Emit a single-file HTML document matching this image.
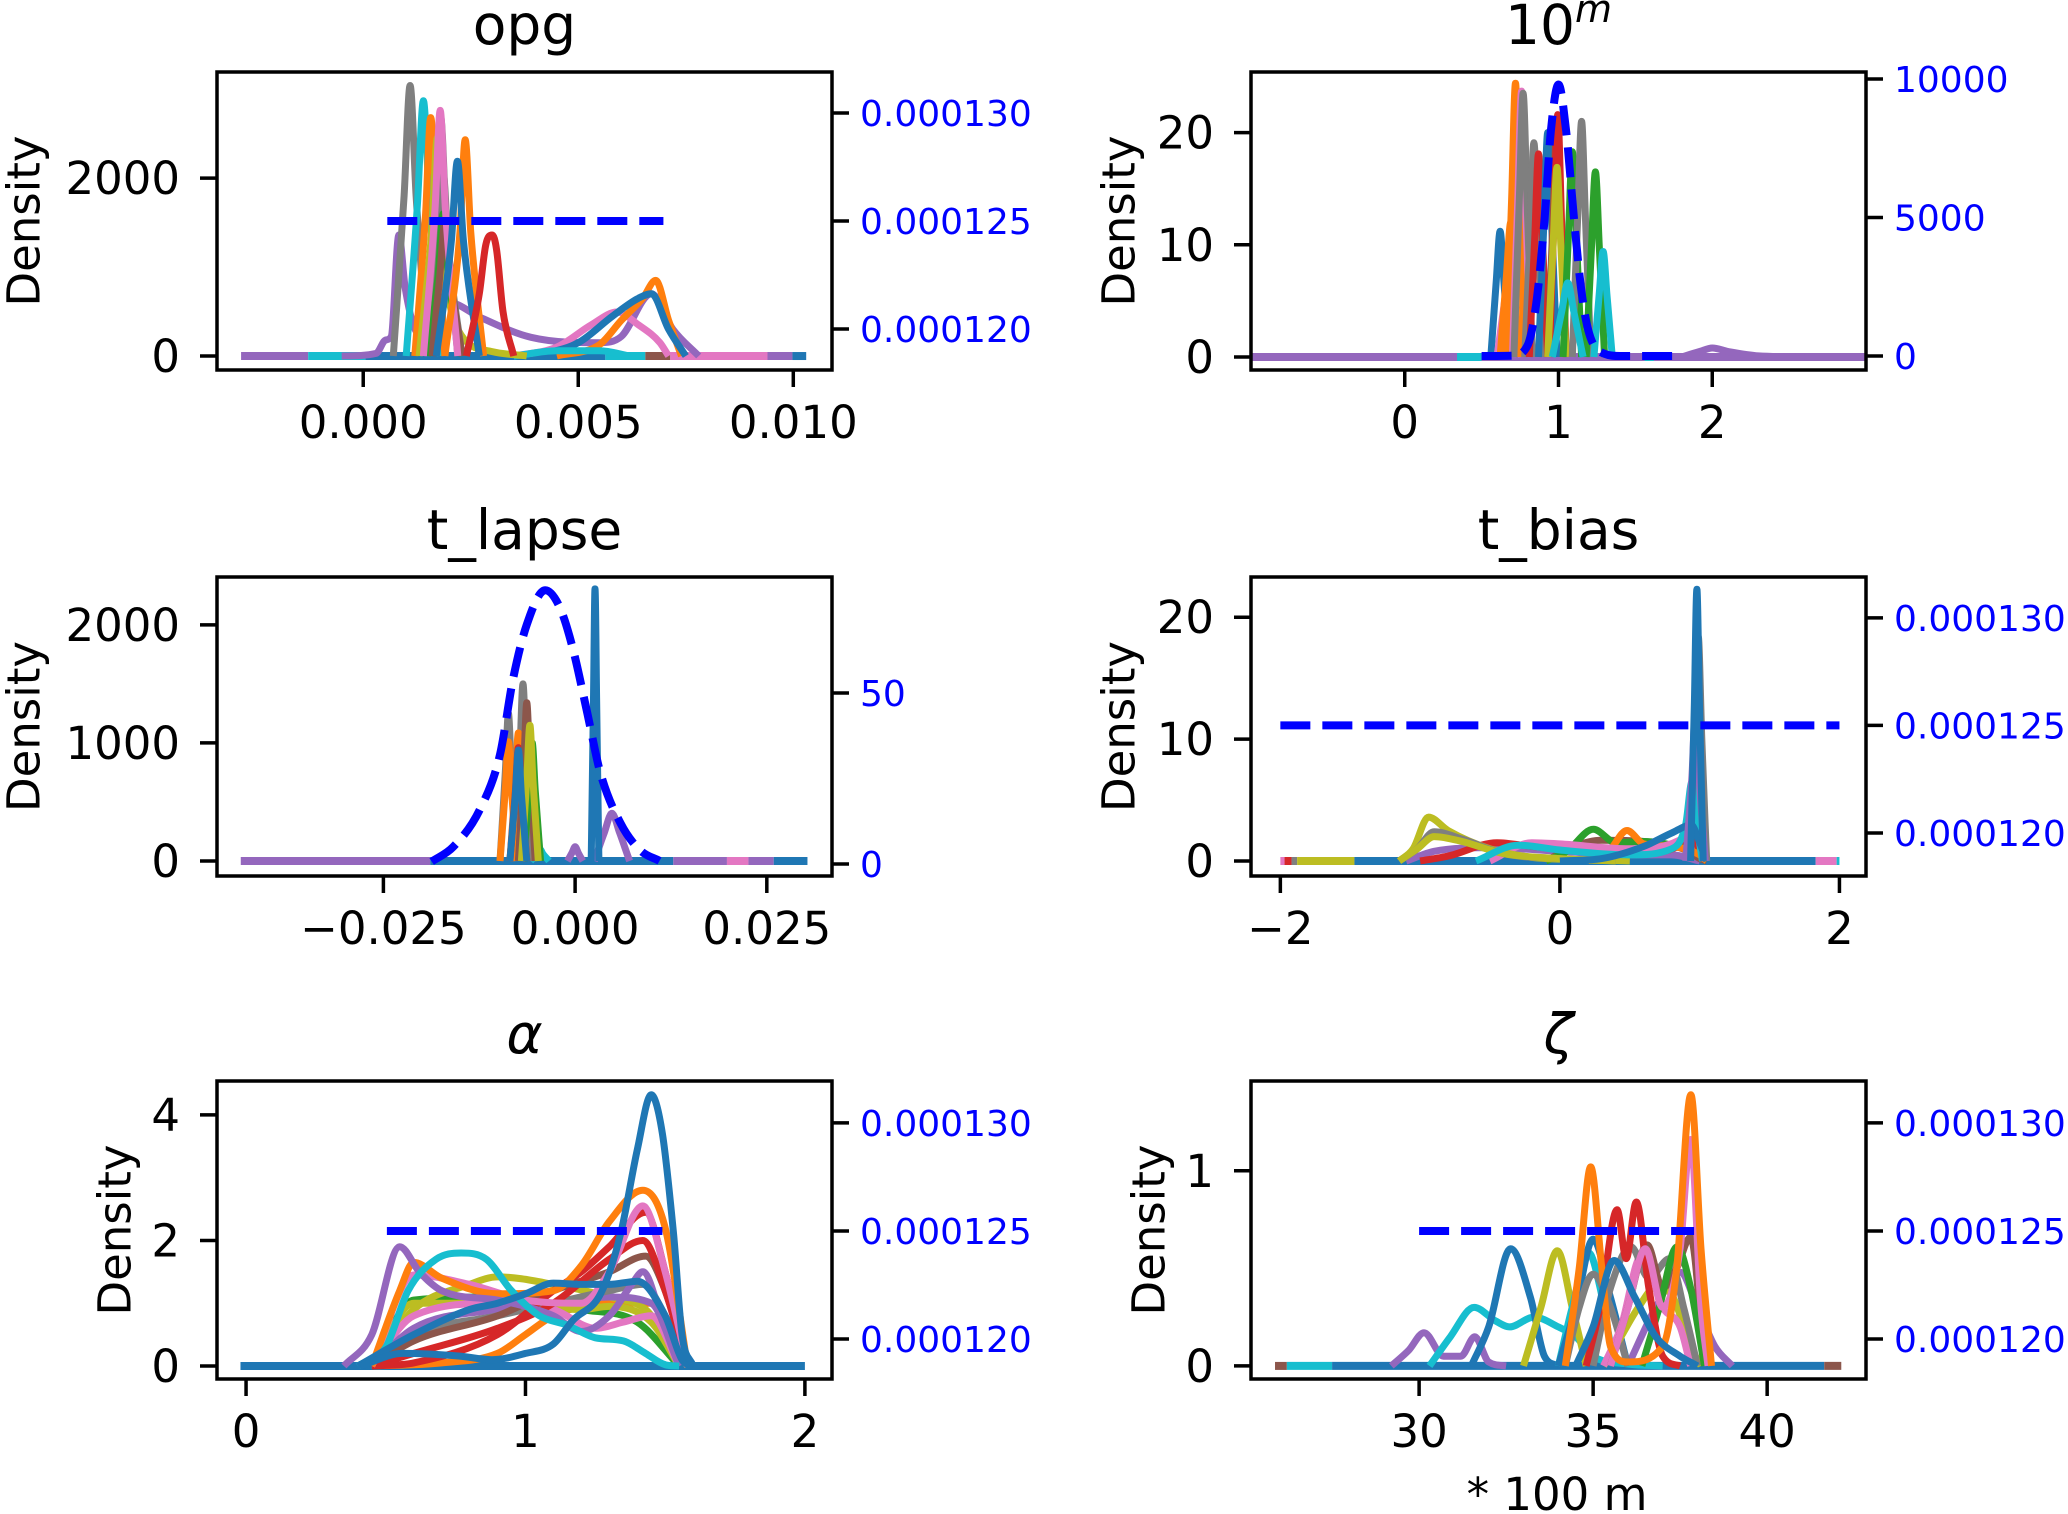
<!DOCTYPE html>
<html>
<head>
<meta charset="utf-8">
<style>
  html,body{margin:0;padding:0;background:#fff;}
  svg{display:block;}
  text{font-family:"DejaVu Sans","Liberation Sans",sans-serif;}
</style>
</head>
<body>
<svg id="chart" xmlns="http://www.w3.org/2000/svg" width="2068" height="1514" viewBox="0 0 2068 1514">
  <rect x="0" y="0" width="2068" height="1514" fill="#ffffff"/>
</svg>
<script>
const B='#1f77b4',O='#ff7f0e',G='#2ca02c',R='#d62728',P='#9467bd',Br='#8c564b',Pk='#e377c2',Gy='#7f7f7f',Ol='#bcbd22',C='#17becf';

/* ---------- panel 1: opg ---------- */
const opgXTicks=[0.000,0.005,0.010];
const opgXTickLabels=['0.000','0.005','0.010'];
const opgYTicks=[0,2000];
const opgYTickLabels=['0','2000'];
const opgY2Ticks=[0.000120,0.000125,0.000130];
const opgY2TickLabels=['0.000120','0.000125','0.000130'];
const opgBaseSegs=[[-0.00284,-0.00128],[-0.00128,0.00005],[0.00005,0.00563],[0.00563,0.00656],[0.00656,0.00714],[0.00714,0.0094],[0.0094,0.00998],[0.00998,0.0103]];
const opgBaseColors=[P,C,B,C,Br,Pk,P,B];
const opgColors=[P,Pk,O,B,C,Gy,C,O,Gy,Ol,Gy,G,Br,Pk,O,B,R];
const opgSeries=[
 [[-0.0005,0],[0.0003,30],[0.00052,180],[0.00065,220],[0.00083,1360],[0.00098,750],[0.0013,250],[0.002,600],[0.0027,440],[0.0039,210],[0.0055,150],[0.006,220],[0.0067,700],[0.0072,300],[0.0078,0]],
 [[0.0035,0],[0.0045,100],[0.0053,350],[0.0059,495],[0.0064,350],[0.0069,150],[0.0071,0]],
 [[0.0045,0],[0.0055,130],[0.006,400],[0.0065,650],[0.0068,850],[0.0071,400],[0.0074,0]],
 [[0.004,0],[0.005,150],[0.0058,450],[0.0064,650],[0.0067,700],[0.0071,300],[0.0075,0]],
 [[0.0035,0],[0.0045,60],[0.0055,60],[0.0062,0]],
 [[0.0007,0],[0.00095,1800],[0.00109,3040],[0.00123,1800],[0.0015,0]],
 [[0.0010,0],[0.00126,1700],[0.0014,2870],[0.00154,1700],[0.0018,0]],
 [[0.0012,0],[0.00145,1600],[0.00157,2680],[0.0017,1600],[0.0019,0]],
 [[0.0014,0],[0.00167,1600],[0.0018,2690],[0.00193,1500],[0.0022,0]],
 [[0.0013,0],[0.0016,1450],[0.00172,2450],[0.00186,1200],[0.0022,300],[0.003,50],[0.0038,0]],
 [[0.0015,0],[0.00174,1200],[0.00186,2050],[0.00198,1200],[0.0023,0]],
 [[0.0015,0],[0.00174,900],[0.00186,1600],[0.00198,900],[0.0023,0]],
 [[0.0016,0],[0.00178,900],[0.0019,1500],[0.00202,900],[0.0023,0]],
 [[0.0014,0],[0.00167,1650],[0.00179,2760],[0.00191,1650],[0.0022,0]],
 [[0.0019,0],[0.00225,1400],[0.00237,2430],[0.0025,1400],[0.0028,0]],
 [[0.0017,0],[0.00205,1300],[0.00219,2190],[0.00233,1300],[0.0027,0]],
 [[0.0024,0],[0.0027,700],[0.00285,1250],[0.003,1360],[0.0031,1200],[0.00325,500],[0.0035,0]]
];
const opgPrior=[[0.00056,0.000125],[0.00698,0.000125]];

/* ---------- panel 2: 10^m ---------- */
const tenXTicks=[0,1,2];
const tenXTickLabels=['0','1','2'];
const tenYTicks=[0,10,20];
const tenYTickLabels=['0','10','20'];
const tenY2Ticks=[0,5000,10000];
const tenY2TickLabels=['0','5000','10000'];
const tenBaseSegs=[[-1,3],[0.34,0.5],[1.56,1.62]];
const tenBaseColors=[P,C,C];
const tenColors=[P,B,Pk,O,O,Pk,Gy,Gy,R,B,Br,R,Ol,G,Gy,G,C,C];
const tenSeries=[
 [[1.8,0],[1.92,0.5],[2.0,0.8],[2.1,0.5],[2.3,0.1],[2.6,0]],
 [[0.56,0],[0.595,6.7],[0.62,11.2],[0.645,6.7],[0.68,0]],
 [[0.6,0],[0.645,4.5],[0.68,7.8],[0.715,4.5],[0.76,0]],
 [[0.62,0],[0.66,7],[0.69,12],[0.71,8],[0.74,0]],
 [[0.66,0],[0.695,14],[0.72,24.4],[0.745,14],[0.78,0]],
 [[0.70,0],[0.735,14],[0.76,23.7],[0.785,14],[0.82,0]],
 [[0.71,0],[0.745,14],[0.77,23.5],[0.795,14],[0.83,0]],
 [[0.78,0],[0.815,11],[0.84,19.1],[0.865,11],[0.9,0]],
 [[0.81,0],[0.845,10.5],[0.87,18.1],[0.895,10.5],[0.93,0]],
 [[0.87,0],[0.905,12],[0.93,20],[0.955,12],[0.99,0]],
 [[0.93,0],[0.965,12.5],[0.99,21.2],[1.015,12.5],[1.05,0]],
 [[0.94,0],[0.97,12],[0.995,21.6],[1.02,12],[1.05,0]],
 [[0.93,0],[0.965,10],[0.99,16.9],[1.015,10],[1.05,0]],
 [[1.03,0],[1.065,11],[1.09,18.3],[1.115,11],[1.15,0]],
 [[1.09,0],[1.125,12.5],[1.15,21],[1.175,12.5],[1.21,0]],
 [[1.18,0],[1.215,10],[1.24,16.5],[1.265,10],[1.3,0]],
 [[1.23,0],[1.265,5.6],[1.29,9.4],[1.315,5.6],[1.35,0]],
 [[0.96,0],[1.02,4],[1.06,6.6],[1.1,4],[1.16,0]]
];
const tenPrior=[[0.5,0],[0.7,10],[0.8,400],[0.86,2100],[0.91,5000],[0.95,8100],[1.0,9800],[1.05,8100],[1.1,5000],[1.15,2300],[1.2,800],[1.3,80],[1.4,0],[1.8,0]];

/* ---------- panel 3: t_lapse ---------- */
const lapseXTicks=[-0.025,0,0.025];
const lapseXTickLabels=['\u22120.025','0.000','0.025'];
const lapseYTicks=[0,1000,2000];
const lapseYTickLabels=['0','1000','2000'];
const lapseY2Ticks=[0,50];
const lapseY2TickLabels=['0','50'];
const lapseBaseSegs=[[-0.0436,-0.0189],[-0.0189,0.0128],[0.0128,0.0198],[0.0198,0.0226],[0.0226,0.0259],[0.0259,0.0303]];
const lapseBaseColors=[P,B,P,Pk,P,B];
const lapseColors=[P,P,C,Gy,Gy,O,O,R,Br,G,Ol,B,B];
const lapseSeries=[
 [[0.0025,0],[0.0038,240],[0.0048,405],[0.0058,240],[0.0071,0]],
 [[-0.001,0],[-0.0004,70],[0,120],[0.0004,70],[0.001,0]],
 [[-0.0058,0],[-0.005,60],[-0.0046,100],[-0.0042,60],[-0.0034,0]],
 [[-0.0079,0],[-0.0072,900],[-0.0068,1500],[-0.0064,900],[-0.0057,0]],
 [[-0.0098,0],[-0.0091,750],[-0.0087,1250],[-0.0083,750],[-0.0076,0]],
 [[-0.0098,0],[-0.0091,600],[-0.0087,1010],[-0.0083,600],[-0.0076,0]],
 [[-0.0085,0],[-0.0078,650],[-0.0074,1085],[-0.007,650],[-0.0063,0]],
 [[-0.0085,0],[-0.0078,580],[-0.0074,960],[-0.007,580],[-0.0063,0]],
 [[-0.0074,0],[-0.0067,800],[-0.0063,1340],[-0.0059,800],[-0.0052,0]],
 [[-0.0067,0],[-0.006,600],[-0.0056,1000],[-0.0052,600],[-0.0045,0]],
 [[-0.007,0],[-0.0063,690],[-0.0059,1150],[-0.0055,690],[-0.0048,0]],
 [[-0.0085,0],[-0.0078,560],[-0.0074,940],[-0.007,560],[-0.0063,0]],
 [[0.0021,0],[0.0024,1380],[0.0026,2304],[0.0028,1380],[0.0031,0]]
];
const lapsePrior=[[-0.0187,0.7],[-0.0159,5],[-0.0124,16],[-0.0098,32],[-0.0081,54],[-0.0063,70],[-0.0039,80],[-0.002,75],[-0.0003,63],[0.0016,44],[0.0033,26.6],[0.0059,12],[0.0085,4],[0.011,0.9]];

/* ---------- panel 4: t_bias ---------- */
const biasXTicks=[-2,0,2];
const biasXTickLabels=['\u22122','0','2'];
const biasYTicks=[0,10,20];
const biasYTickLabels=['0','10','20'];
const biasY2Ticks=[0.000120,0.000125,0.000130];
const biasY2TickLabels=['0.000120','0.000125','0.000130'];
const biasBaseSegs=[[-2.0,-1.97],[-1.97,-1.92],[-1.92,-1.88],[-1.88,-1.47],[-1.47,1.83],[1.83,1.98],[1.98,2.0]];
const biasBaseColors=[Pk,R,Gy,Ol,B,Pk,C];
const biasColors=[P,R,Br,G,O,Pk,Ol,Gy,Ol,C,B,Gy,P,B];
const biasSeries=[
 [[-1.1,0],[-0.9,0.8],[-0.5,1.1],[0,0.8],[0.5,0.5],[0.8,0.5],[1.0,0]],
 [[-1.0,0],[-0.8,0.4],[-0.45,1.5],[-0.2,1.2],[0.2,0.8],[0.6,0.6],[0.9,1.5],[0.95,2],[1.02,0]],
 [[-0.1,0],[0.1,1.2],[0.3,1.7],[0.6,1.6],[0.9,0.9],[1.0,0.2],[1.05,0]],
 [[-0.1,0],[0.05,0.8],[0.24,2.6],[0.4,1.5],[0.6,1.6],[0.8,1.3],[1.0,0.5],[1.05,0]],
 [[0.2,0],[0.35,0.8],[0.48,2.5],[0.6,1.4],[0.8,1.2],[1.0,0.5],[1.05,0]],
 [[-0.5,0],[-0.2,1.5],[0,1.4],[0.5,1.0],[0.9,2],[0.97,4.7],[1.02,0]],
 [[-1.15,0],[-1.05,1.0],[-0.94,3.6],[-0.8,2.5],[-0.5,1.0],[-0.2,0.3],[0.2,0.1],[0.5,0]],
 [[-1.15,0],[-1.02,1.0],[-0.9,2.4],[-0.7,1.8],[-0.4,0.6],[0,0.2],[0.4,0]],
 [[-1.15,0],[-1.02,1.0],[-0.9,2.0],[-0.7,1.6],[-0.4,0.6],[0,0.2],[0.4,0]],
 [[-0.6,0],[-0.3,1.3],[0,0.9],[0.5,0.5],[0.8,1],[0.9,3],[0.945,6.5],[0.98,3],[1.02,0]],
 [[0,0],[0.3,0.2],[0.6,1.2],[0.8,2.3],[0.94,2.95],[1.0,1.5],[1.05,0]],
 [[0.92,0],[0.965,10],[0.99,18.4],[1.015,10],[1.05,0]],
 [[0.9,0],[0.945,7],[0.97,12.6],[0.995,7],[1.04,0]],
 [[0.935,0],[0.962,13],[0.98,22.3],[0.998,13],[1.025,0]]
];
const biasPrior=[[-2,0.000125],[2,0.000125]];

/* ---------- panel 5: alpha ---------- */
const alphaXTicks=[0,1,2];
const alphaXTickLabels=['0','1','2'];
const alphaYTicks=[0,2,4];
const alphaYTickLabels=['0','2','4'];
const alphaY2Ticks=[0.000120,0.000125,0.000130];
const alphaY2TickLabels=['0.000120','0.000125','0.000130'];
const alphaBaseSegs=[[-0.02,2.0]];
const alphaBaseColors=[B];
const alphaColors=[O,G,Ol,Ol,Pk,P,Gy,Br,R,R,Pk,O,P,C,B,B];
const alphaSeries=[
 [[0.45,0],[0.7,0.05],[0.9,0.2],[1.0,0.5],[1.1,0.8],[1.3,1.0],[1.45,1.0],[1.55,0]],
 [[0.45,0],[0.6,1.05],[0.9,1.1],[1.2,0.9],[1.4,0.7],[1.55,0]],
 [[0.45,0],[0.6,1.0],[0.8,1.0],[1.0,0.95],[1.2,0.9],[1.3,0.95],[1.45,0.7],[1.55,0]],
 [[0.45,0],[0.6,0.9],[0.8,1.3],[0.9,1.42],[1.1,1.3],[1.3,1.1],[1.43,0.9],[1.5,0.5],[1.58,0]],
 [[0.45,0],[0.6,0.8],[0.9,1.0],[1.1,0.9],[1.25,0.6],[1.35,0.7],[1.45,0.8],[1.55,0]],
 [[0.45,0],[0.6,0.6],[0.9,0.9],[1.1,1.0],[1.3,1.1],[1.45,1.0],[1.55,0]],
 [[0.45,0],[0.6,0.5],[0.9,0.8],[1.1,1.0],[1.3,1.2],[1.42,1.3],[1.5,0.8],[1.58,0]],
 [[0.45,0],[0.6,0.4],[0.9,0.8],[1.1,1.2],[1.3,1.5],[1.43,1.75],[1.5,1.2],[1.58,0]],
 [[0.45,0],[0.6,0.2],[0.9,0.6],[1.1,1.0],[1.3,1.7],[1.42,2.0],[1.5,1.2],[1.58,0]],
 [[0.45,0],[0.6,0.05],[0.9,0.5],[1.1,1.2],[1.2,1.5],[1.3,1.9],[1.43,2.45],[1.5,1.5],[1.58,0]],
 [[0.45,0],[0.6,1.45],[0.8,1.3],[1.0,1.05],[1.2,1.0],[1.3,1.5],[1.42,2.55],[1.5,1.5],[1.58,0]],
 [[0.45,0],[0.55,1.2],[0.6,1.65],[0.7,1.4],[0.9,1.15],[1.1,1.2],[1.2,1.6],[1.3,2.3],[1.42,2.8],[1.5,2.2],[1.58,0]],
 [[0.35,0],[0.45,0.5],[0.55,1.9],[0.62,1.5],[0.7,1.2],[0.9,1.05],[1.0,0.95],[1.1,0.8],[1.2,0.55],[1.3,0.8],[1.38,1.3],[1.42,1.5],[1.5,0.6],[1.58,0]],
 [[0.4,0],[0.5,0.3],[0.58,1.2],[0.68,1.7],[0.77,1.8],[0.86,1.7],[0.95,1.2],[1.05,0.8],[1.15,0.65],[1.25,0.45],[1.35,0.4],[1.43,0.2],[1.5,0.02],[1.55,0]],
 [[0.4,0],[0.6,0.5],[0.8,0.9],[0.9,1.0],[1.0,1.15],[1.1,1.32],[1.2,1.3],[1.3,1.3],[1.4,1.35],[1.5,0.8],[1.56,0.1],[1.6,0]],
 [[0.41,0],[0.56,0.2],[0.76,0.16],[0.88,0.1],[1.0,0.2],[1.1,0.35],[1.17,0.73],[1.27,1.16],[1.34,2.1],[1.4,3.44],[1.45,4.32],[1.49,3.7],[1.53,2.1],[1.56,0.5],[1.6,0]]
];
const alphaPrior=[[0.504,0.000125],[1.49,0.000125]];

/* ---------- panel 6: zeta ---------- */
const zetaXTicks=[30,35,40];
const zetaXTickLabels=['30','35','40'];
const zetaYTicks=[0,1];
const zetaYTickLabels=['0','1'];
const zetaY2Ticks=[0.000120,0.000125,0.000130];
const zetaY2TickLabels=['0.000120','0.000125','0.000130'];
const zetaBaseSegs=[[25.86,26.2],[26.2,27.5],[27.5,41.64],[41.64,42.13]];
const zetaBaseColors=[Br,C,B,Br];
const zetaColors=[P,P,C,B,Ol,C,B,Gy,Ol,Pk,Gy,Br,G,R,Pk,O,B];
const zetaSeries=[
 [[29.2,0],[29.7,0.08],[30.14,0.17],[30.7,0.05],[31.2,0.05],[31.6,0.15],[32,0.02],[32.5,0]],
 [[36,0],[36.8,0.3],[37.5,0.48],[38,0.3],[38.5,0.1],[39,0]],
 [[30.3,0],[30.9,0.15],[31.58,0.3],[32.2,0.23],[32.6,0.2],[33.3,0.25],[34,0.2],[34.5,0.15],[35,0.05],[36,0.01],[37,0]],
 [[31.5,0],[32,0.2],[32.63,0.6],[33.2,0.35],[33.6,0.05],[34,0]],
 [[33,0],[33.5,0.3],[33.97,0.59],[34.4,0.3],[34.8,0]],
 [[34,0],[34.4,0.3],[34.87,0.58],[35.2,0.4],[35.6,0]],
 [[34,0],[34.5,0.3],[35,0.65],[35.5,0.35],[36,0]],
 [[34.2,0],[34.6,0.3],[35,0.47],[35.5,0.3],[36,0]],
 [[35.3,0],[35.8,0.15],[36.3,0.3],[36.84,0.41],[37.3,0.35],[37.8,0.1],[38.1,0]],
 [[35.3,0],[35.8,0.2],[36.4,0.57],[37,0.3],[37.5,0.2],[37.8,0]],
 [[35,0],[35.5,0.4],[36.09,0.61],[36.6,0.45],[37.2,0.55],[37.6,0.3],[38,0]],
 [[35.5,0],[36,0.3],[36.55,0.62],[37,0.4],[37.4,0.5],[37.8,0.66],[38.2,0]],
 [[36.4,0],[36.9,0.3],[37.41,0.61],[37.8,0.4],[38.2,0]],
 [[34.8,0],[35.2,0.3],[35.69,0.8],[35.95,0.55],[36.24,0.84],[36.6,0.4],[37,0.05],[37.5,0]],
 [[35.5,0],[36,0.3],[36.5,0.6],[37,0.3],[37.5,0.6],[37.8,1.16],[38.1,0.3],[38.3,0]],
 [[34.2,0],[34.6,0.5],[34.93,1.02],[35.25,0.5],[35.5,0.1],[36,0.02],[37,0.1],[37.4,0.5],[37.81,1.39],[38.1,0.6],[38.4,0]],
 [[34.5,0],[35,0.2],[35.6,0.54],[36.2,0.35],[36.8,0.15],[37.5,0.05],[38,0]]
];
const zetaPrior=[[30,0.000125],[37.9,0.000125]];

/* ---------- rendering ---------- */
const NS='http://www.w3.org/2000/svg';
const svg=document.getElementById('chart');
function mk(tag,attrs,parent){const e=document.createElementNS(NS,tag);for(const k in attrs)e.setAttribute(k,attrs[k]);(parent||svg).appendChild(e);return e;}
function lin(d0,d1,p0,p1){return v=>p0+(v-d0)/(d1-d0)*(p1-p0);}
function smoothPath(pts){
  const n=pts.length;if(n<2)return '';
  if(n===2)return `M${pts[0][0]},${pts[0][1]}L${pts[1][0]},${pts[1][1]}`;
  const m=[],t=new Array(n);
  for(let i=0;i<n-1;i++){const dx=pts[i+1][0]-pts[i][0];m.push(dx===0?0:(pts[i+1][1]-pts[i][1])/dx);}
  t[0]=m[0];t[n-1]=m[n-2];
  for(let i=1;i<n-1;i++)t[i]=(m[i-1]*m[i]<=0)?0:(m[i-1]+m[i])/2;
  for(let i=0;i<n-1;i++){
    if(m[i]===0){t[i]=0;t[i+1]=0;continue;}
    const a=t[i]/m[i],b=t[i+1]/m[i],s=a*a+b*b;
    if(s>9){const tau=3/Math.sqrt(s);t[i]=tau*a*m[i];t[i+1]=tau*b*m[i];}
  }
  let d=`M${pts[0][0].toFixed(1)},${pts[0][1].toFixed(1)}`;
  for(let i=0;i<n-1;i++){
    const dx=pts[i+1][0]-pts[i][0];
    d+=`C${(pts[i][0]+dx/3).toFixed(1)},${(pts[i][1]+t[i]*dx/3).toFixed(1)} ${(pts[i+1][0]-dx/3).toFixed(1)},${(pts[i+1][1]-t[i+1]*dx/3).toFixed(1)} ${pts[i+1][0].toFixed(1)},${pts[i+1][1].toFixed(1)}`;
  }
  return d;
}

function panel(c){
  const [L,T,Rr,Bt]=c.box;
  const g=mk('g',{});
  
  
  const sx=lin(c.xlim[0],c.xlim[1],L,Rr);
  const sy=lin(c.ylim[0],c.ylim[1],Bt,T);
  const sy2=lin(c.y2lim[0],c.y2lim[1],Bt,T);
  const clipId='clip-'+c.name;
  const cp=mk('clipPath',{id:clipId},g);
  mk('rect',{x:L,y:T,width:Rr-L,height:Bt-T},cp);
  const plot=mk('g',{'clip-path':`url(#${clipId})`},g);
  
  
  c.base.forEach((s,i)=>{
    const ln=mk('line',{x1:sx(s[0]),x2:sx(s[1]),y1:sy(0),y2:sy(0),stroke:c.baseColors[i],'stroke-width':8},plot);
    
    
  });
  c.series.forEach((s,i)=>{
    const pts=s.map(p=>[sx(p[0]),sy(p[1])]);
    const pth=mk('path',{d:smoothPath(pts),fill:'none',stroke:c.colors[i],'stroke-width':7,'stroke-linejoin':'round','stroke-linecap':'butt'},plot);
    
    
  });
  const ppts=c.prior.map(p=>[sx(p[0]),sy2(p[1])]);
  const pr=mk('path',{d:smoothPath(ppts),fill:'none',stroke:'#0000ff','stroke-width':8,'stroke-dasharray':'30 12'},plot);
  
  
  const fr=mk('rect',{x:L,y:T,width:Rr-L,height:Bt-T,fill:'none',stroke:'#000','stroke-width':3.5},g);
  
  
  c.xticks.forEach((v,i)=>{
    const x=sx(v);
    const tk=mk('line',{x1:x,x2:x,y1:Bt,y2:Bt+17,stroke:'#000','stroke-width':3.5},g);
    
    
    const tx=mk('text',{x:x,y:Bt+68,'text-anchor':'middle','font-size':45,fill:'#000'},g);
    tx.textContent=c.xtickLabels[i];
    
    
  });
  c.yticks.forEach((v,i)=>{
    const y=sy(v);
    const tk=mk('line',{x1:L-17,x2:L,y1:y,y2:y,stroke:'#000','stroke-width':3.5},g);
    
    
    const tx=mk('text',{x:L-37,y:y+16,'text-anchor':'end','font-size':45,fill:'#000'},g);
    tx.textContent=c.ytickLabels[i];
    
    
  });
  c.y2ticks.forEach((v,i)=>{
    const y=sy2(v);
    const tk=mk('line',{x1:Rr,x2:Rr+17,y1:y,y2:y,stroke:'#000','stroke-width':3.5},g);
    
    
    const tx=mk('text',{x:Rr+28,y:y+13,'text-anchor':'start','font-size':36,fill:'#0000ff'},g);
    tx.textContent=c.y2tickLabels[i];
    
    
  });
  const cy=(T+Bt)/2;
  const yl=mk('text',{x:c.ylabelX,y:cy,'text-anchor':'middle','dominant-baseline':'central','font-size':45,fill:'#000',transform:`rotate(-90 ${c.ylabelX} ${cy})`},g);
  yl.textContent='Density';
  
  
  const tt=mk('text',{x:(L+Rr)/2,y:T-28,'text-anchor':'middle','font-size':55,fill:'#000'},g);
  
  
  c.title(tt);
  return g;
}

function plainTitle(s){return t=>{t.textContent=s;};}

panel({name:'opg',box:[217,72,832,370],xlim:[-0.0034,0.0109],ylim:[-157,3192],y2lim:[0.0001181,0.0001319],
  xticks:opgXTicks,xtickLabels:opgXTickLabels,yticks:opgYTicks,ytickLabels:opgYTickLabels,y2ticks:opgY2Ticks,y2tickLabels:opgY2TickLabels,
  base:opgBaseSegs,baseColors:opgBaseColors,series:opgSeries,colors:opgColors,prior:opgPrior,ylabelX:24,title:plainTitle('opg')});

panel({name:'ten-m',box:[1251,72,1866,370],xlim:[-1,3],ylim:[-1.16,25.4],y2lim:[-505,10253],
  xticks:tenXTicks,xtickLabels:tenXTickLabels,yticks:tenYTicks,ytickLabels:tenYTickLabels,y2ticks:tenY2Ticks,y2tickLabels:tenY2TickLabels,
  base:tenBaseSegs,baseColors:tenBaseColors,series:tenSeries,colors:tenColors,prior:tenPrior,ylabelX:1119,
  title:t=>{t.textContent='10';const s=document.createElementNS(NS,'tspan');s.setAttribute('font-style','italic');s.setAttribute('font-size','38');s.setAttribute('dy','-22');s.textContent='m';t.appendChild(s);}});

panel({name:'t-lapse',box:[217,577,832,876],xlim:[-0.0467,0.0335],ylim:[-127,2405],y2lim:[-3.5,83.9],
  xticks:lapseXTicks,xtickLabels:lapseXTickLabels,yticks:lapseYTicks,ytickLabels:lapseYTickLabels,y2ticks:lapseY2Ticks,y2tickLabels:lapseY2TickLabels,
  base:lapseBaseSegs,baseColors:lapseBaseColors,series:lapseSeries,colors:lapseColors,prior:lapsePrior,ylabelX:24,title:plainTitle('t_lapse')});

panel({name:'t-bias',box:[1251,577,1866,876],xlim:[-2.21,2.19],ylim:[-1.23,23.3],y2lim:[0.000118,0.0001319],
  xticks:biasXTicks,xtickLabels:biasXTickLabels,yticks:biasYTicks,ytickLabels:biasYTickLabels,y2ticks:biasY2Ticks,y2tickLabels:biasY2TickLabels,
  base:biasBaseSegs,baseColors:biasBaseColors,series:biasSeries,colors:biasColors,prior:biasPrior,ylabelX:1119,title:plainTitle('t_bias')});

panel({name:'alpha',box:[217,1081,832,1379],xlim:[-0.104,2.097],ylim:[-0.207,4.54],y2lim:[0.00011815,0.00013194],
  xticks:alphaXTicks,xtickLabels:alphaXTickLabels,yticks:alphaYTicks,ytickLabels:alphaYTickLabels,y2ticks:alphaY2Ticks,y2tickLabels:alphaY2TickLabels,
  base:alphaBaseSegs,baseColors:alphaBaseColors,series:alphaSeries,colors:alphaColors,prior:alphaPrior,ylabelX:115,
  title:t=>{t.textContent='\u03b1';t.setAttribute('font-style','italic');}});

panel({name:'zeta',box:[1251,1081,1866,1379],xlim:[25.17,42.84],ylim:[-0.067,1.46],y2lim:[0.00011815,0.00013194],
  xticks:zetaXTicks,xtickLabels:zetaXTickLabels,yticks:zetaYTicks,ytickLabels:zetaYTickLabels,y2ticks:zetaY2Ticks,y2tickLabels:zetaY2TickLabels,
  base:zetaBaseSegs,baseColors:zetaBaseColors,series:zetaSeries,colors:zetaColors,prior:zetaPrior,ylabelX:1149,
  title:t=>{t.textContent='\u03b6';t.setAttribute('font-style','italic');}});

const xl=mk('text',{x:1557,y:1510,'text-anchor':'middle','font-size':45,fill:'#000'});
xl.textContent='* 100 m';


</script>
</body>
</html>
